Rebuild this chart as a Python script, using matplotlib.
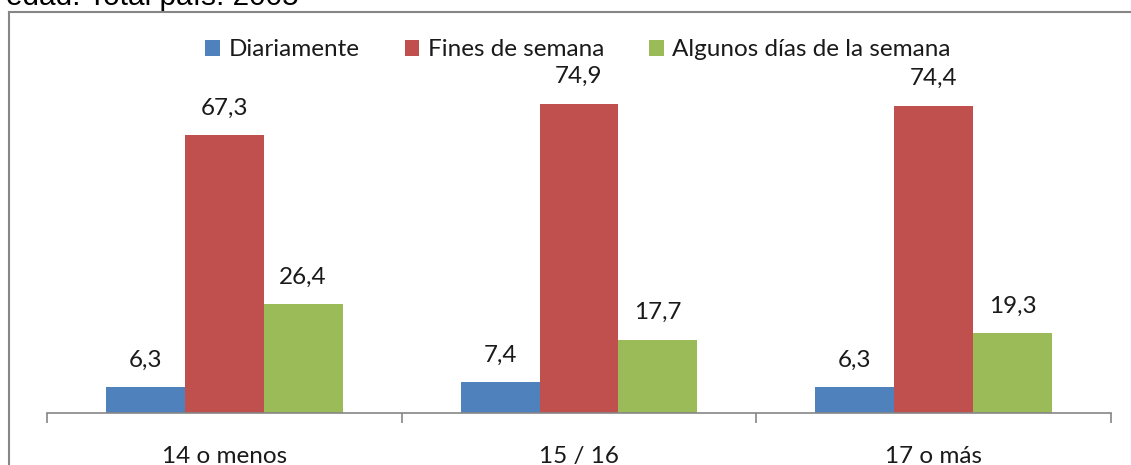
import matplotlib.pyplot as plt
import numpy as np
from matplotlib.lines import Line2D

# datos
categorias = ['14 o menos', '15 / 16', '17 o más']
series = ['Diariamente', 'Fines de semana', 'Algunos días de la semana']
diariamente = [6.3, 7.4, 6.3]
fines_semana = [67.3, 74.9, 74.4]
algunos_dias = [26.4, 17.7, 19.3]
colores = ['#4F81BD', '#C0504D', '#9BBB59']

plt.rcParams['font.family'] = ['Lato', 'DejaVu Sans']

W, H = 1131, 465
fig = plt.figure(figsize=(W / 100, H / 100), dpi=100)
ax = fig.add_axes([47 / W, (H - 413) / H, (1111 - 47) / W, 330.5 / H])

x = np.arange(len(categorias))
ancho = 1 / 4.5
valores = [diariamente, fines_semana, algunos_dias]
for i, (nombre, vals) in enumerate(zip(series, valores)):
    pos = x + (i - 1) * ancho
    ax.bar(pos, vals, width=ancho, color=colores[i], label=nombre)
    for px, v in zip(pos, vals):
        ax.annotate(f'{v:.1f}'.replace('.', ','), (px, v), xytext=(0, 19.5),
                    textcoords='offset points', ha='center', va='center',
                    fontsize=17.5, color='#1a1a1a')

ax.set_xlim(-0.5, len(categorias) - 0.5)
ax.set_ylim(0, 80)
ax.set_yticks([])
for s in ['top', 'right', 'left']:
    ax.spines[s].set_visible(False)
ax.spines['bottom'].set_color('#868686')
ax.spines['bottom'].set_linewidth(1.2)

ax.set_xticks(x)
ax.set_xticklabels(categorias, fontsize=17.5, color='#1a1a1a')
ax.tick_params(axis='x', which='major', length=0, pad=24)
ax.set_xticks(np.arange(len(categorias) + 1) - 0.5, minor=True)
ax.tick_params(axis='x', which='minor', length=7, color='#868686', width=1.2)

ax.legend(loc='center', bbox_to_anchor=(578 / W, 1 - 50 / H),
          bbox_transform=fig.transFigure, ncol=3, frameon=False,
          fontsize=17.5, handlelength=0.6, handleheight=0.6,
          handletextpad=0.35, columnspacing=1.85, labelcolor='#1a1a1a')

# marco del gráfico (recortado)
fig.add_artist(Line2D([9 / W, 9 / W], [0, 1 - 12 / H], color='#868686', lw=1.5))
fig.add_artist(Line2D([9 / W, 1], [1 - 12 / H, 1 - 12 / H], color='#868686', lw=1.5))

# título cortado arriba
fig.text(6 / W, 1 - 5 / H, 'edad. Total país. 2005', fontsize=21.4,
         family='Liberation Sans', va='baseline', ha='left', color='black')

fig.savefig('out.png', dpi=100)
